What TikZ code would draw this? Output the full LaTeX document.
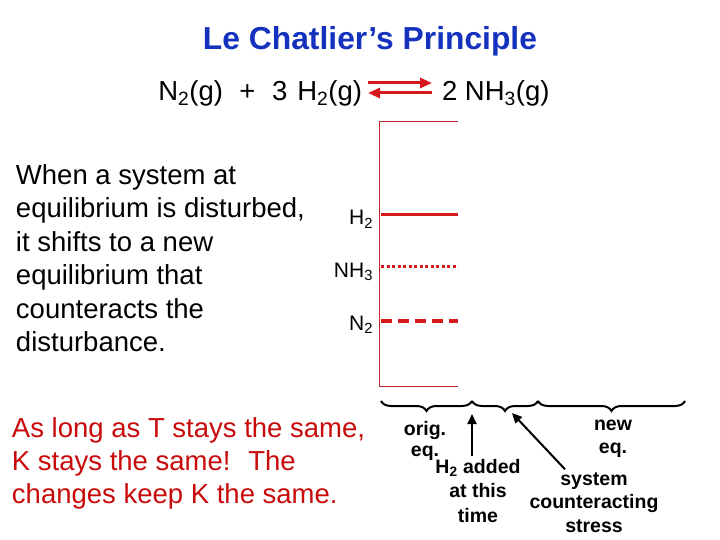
\documentclass[tikz,border=0pt]{standalone}
\usepackage{fontspec}
\setmainfont{Liberation Sans}
\usepackage{tikz}
\usetikzlibrary{arrows.meta,positioning,calc,decorations.pathreplacing}
\definecolor{titlecol}{RGB}{20,50,190}
\definecolor{eqred}{RGB}{215,25,30}
\definecolor{axiscol}{RGB}{190,40,40}
\definecolor{keepcol}{RGB}{200,10,10}
\newcommand{\chemsub}[1]{\textsubscript{#1}}

\begin{document}
\begin{tikzpicture}[x=1pt, y=-1pt,
  every node/.style={inner sep=0pt, outer sep=0pt},
  body/.style={font=\fontsize{27.5}{33.4}\selectfont, align=left, anchor=base west},
  spec/.style={font=\fontsize{21}{24}\selectfont, anchor=base east},
  lbl/.style={font=\fontsize{19.5}{#1}\selectfont\bfseries, align=center, anchor=base},
  lbl/.default=23.5,
  eqarr/.style={-{Triangle[length=12pt,width=10pt]}, line width=3pt, draw=eqred},
  conc/.style={draw=eqred, line width=#1},
  brc/.style={decorate, decoration={brace, mirror, amplitude=10pt}, line width=2pt},
  pointer/.style={-{Triangle[length=10pt,width=9pt]}, line width=2pt}]
  \useasboundingbox (0,0) rectangle (720,540);
  % title and reaction
  \node[font=\fontsize{31.8}{36}\selectfont\bfseries, text=titlecol, anchor=base] (ttl) at (370,50) {Le Chatlier’s Principle};
  \node[body, anchor=base east] (lhs) at (362,101) {N\chemsub{2}(g)\hspace{16.5pt}+\hspace{16.5pt}3\hspace{10pt}H\chemsub{2}(g)};
  \node[body] (rhs) at (442,101) {2 NH\chemsub{3}(g)};
  \draw[eqarr] ([xshift=6pt, yshift=18pt]lhs.base east) -- ([xshift=-10pt, yshift=18pt]rhs.base west);
  \draw[eqarr] ([xshift=-10pt, yshift=8pt]rhs.base west) -- ([xshift=6pt, yshift=8pt]lhs.base east);
  % text blocks (base = last line)
  \node[body] (rule) at (16,351.5) {When a system at\\equilibrium is disturbed,\\it shifts to a new\\equilibrium that\\counteracts the\\disturbance.};
  \node[body, text=keepcol] (keep) at (12,503.8) {As long as T stays the same,\\K stays the same! \ The\\changes keep K the same.};
  % concentration plot
  \draw[draw=axiscol, line width=1pt] (458,121.5) -- (379.5,121.5) -- (379.5,386) -- (458,386);
  \node[spec] (h2) at (373,225) {H\chemsub{2}};
  \node[spec] (nh3) at (373,277) {NH\chemsub{3}};
  \node[spec] (n2) at (373,330) {N\chemsub{2}};
  \draw[conc=3pt] (381,214.3) -- (458,214.3);
  \draw[conc=3pt, dash pattern=on 3pt off 2.5pt] (381,266.7) -- (458,266.7);
  \draw[conc=4pt, dash pattern=on 11pt off 6pt] (381,320.7) -- (458,320.7);
  % time intervals
  \coordinate (b0) at (381,401);
  \coordinate (b1) at (472,401);
  \coordinate (b2) at (538,401);
  \coordinate (b3) at (685,401);
  \draw[brc] (b0) -- (b1);
  \draw[brc] (b1) -- (b2);
  \draw[brc] (b2) -- (b3);
  \node[lbl=21] (orig) at (425,456) {orig.\\eq.};
  \node[lbl=23] (neweq) at (613,453) {new\\eq.};
  \node[lbl=24.5] (added) at (478,522) {H\chemsub{2} added\\at this\\time};
  \node[lbl] (sys) at (594,532) {system\\counteracting\\stress};
  \coordinate (hit1) at (472,414);
  \coordinate (hit2) at (512,413);
  \draw[pointer] ([yshift=3pt]added.north -| hit1) -- (hit1);
  \draw[pointer] ([xshift=-29pt, yshift=3pt]sys.north) -- (hit2);
\end{tikzpicture}
\end{document}
